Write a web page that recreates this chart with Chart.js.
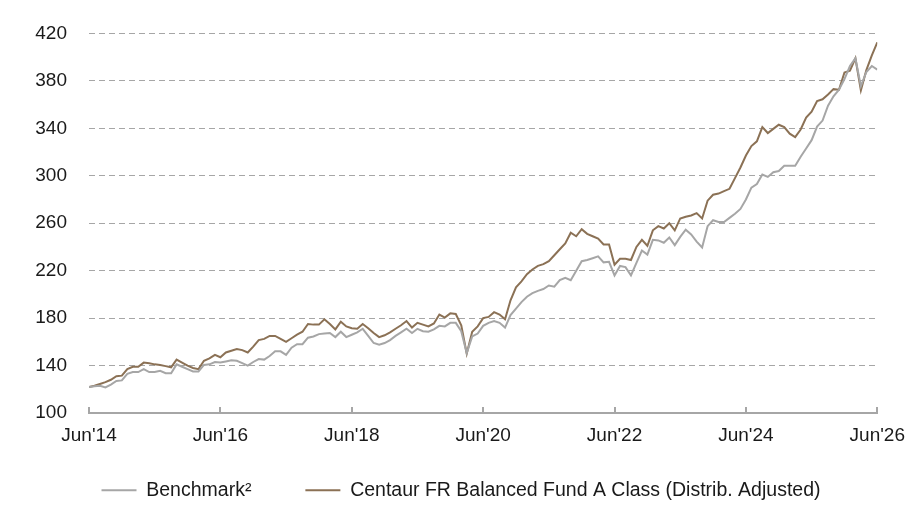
<!DOCTYPE html>
<html>
<head>
<meta charset="utf-8">
<script src="https://cdn.jsdelivr.net/npm/chart.js@4"></script>
<style>
  html, body { margin: 0; padding: 0; background: #fff; }
  #wrap { width: 913px; height: 525px; }
</style>
</head>
<body>
<div id="wrap"><canvas id="perf-chart"></canvas></div>
<script>
"use strict";

// months since Jun'14 (0..144), one value per month
const tickLabels = ["Jun'14", "Jun'16", "Jun'18", "Jun'20", "Jun'22", "Jun'24", "Jun'26"];
const seriesNames = ["Benchmark\u00B2", "Centaur FR Balanced Fund A Class (Distrib. Adjusted)"];

const benchmark = [
  122, 122.5, 123, 121.5, 124, 127, 127.5, 133, 134.5, 134.5, 137, 134.5,
  134.5, 135.5, 133.5, 133.5, 141, 139, 137, 135, 135, 140.5, 141, 143,
  142.5, 143.5, 144.5, 144, 142, 140, 143, 145.5, 145, 148, 152, 152,
  149, 155, 158, 158, 163.5, 164.5, 166.5, 167, 167.5, 164, 168.5, 164,
  166, 168, 171, 165, 159, 157.5, 159, 161.5, 165, 168, 171, 167.5,
  171, 169, 168.5, 170.5, 173.5, 173, 176, 176, 169, 150.5, 164.5, 167,
  173.5, 176, 177.5, 176, 172, 182.5, 188, 193.5, 198, 201, 203, 204.5,
  207.5, 206.5, 212, 214, 212, 220, 228, 229, 230.5, 232, 227, 227.5,
  216, 224, 223, 216, 226.5, 237, 233.5, 246, 245.5, 243.5, 248, 241.5,
  248.5, 254.5, 250.5, 244.5, 239.5, 257.5, 262.5, 261, 261, 264.5, 268, 272,
  280, 290, 293, 301, 299, 303, 304, 308.5, 308.5, 308.5, 316, 323,
  330, 341.5, 346.5, 359, 367, 372.5, 381.5, 392.5, 399, 375.5, 387.5, 392.5,
  389.5
];

const fund = [
  122, 123, 124.5, 126, 128, 131, 131.5, 137, 139, 139, 142.5, 142,
  141, 140.5, 139.5, 138.5, 145, 142.5, 140, 138, 137, 144, 146, 149,
  147, 151, 152.5, 154, 153, 151, 156, 161.5, 162.5, 165, 165, 162.5,
  160, 163, 166, 168.5, 175, 174.5, 174.5, 179, 175, 170.5, 177, 173,
  171.5, 171, 175, 171.5, 167.5, 164, 165.5, 168, 171, 174, 177.5, 172,
  176, 174.5, 173, 175.5, 183, 180.5, 184, 183.5, 174, 150, 168.5, 173,
  180, 181, 185, 183, 179, 195, 206, 211, 217, 221, 224, 225.5,
  228, 233, 238, 243, 252, 249, 255, 251, 249, 247, 242, 242,
  225, 230, 230, 229, 240, 246, 241, 254, 257.5, 255.5, 260, 254,
  264, 265.5, 266.5, 268.5, 264, 279, 284, 285, 287, 289, 298, 307,
  317, 325, 329, 341, 336, 339.5, 343, 341, 335.5, 332.5, 339, 349,
  354, 363, 364.5, 368.5, 373, 372.5, 387, 388.5, 399, 372, 389, 401.5,
  412.5
];

const GRAY = "#a6a6a6";
const BROWN = "#8b7155";

function toPoints(values) {
  return values.map((v, i) => ({ x: i, y: v }));
}

// the x axis box is kept short so the legend can sit close; let its labels
// spill below it instead of being clipped to the box
const unclipXLabels = {
  id: "unclipXLabels",
  afterLayout(chart) {
    chart.scales.x.bottom = chart.height;
  },
};

function renderChart() {
  Chart.defaults.font.family = "'Liberation Sans', Arial, sans-serif";
  Chart.defaults.font.size = 19;
  Chart.defaults.color = "#1a1a1a";

  const ctx = document.getElementById("perf-chart").getContext("2d");
  new Chart(ctx, {
    type: "line",
    data: {
      datasets: [
        { label: seriesNames[0], data: toPoints(benchmark), borderColor: GRAY, backgroundColor: GRAY },
        { label: seriesNames[1], data: toPoints(fund), borderColor: BROWN, backgroundColor: BROWN },
      ],
    },
    plugins: [unclipXLabels],
    options: {
      responsive: true,
      maintainAspectRatio: false,
      animation: false,
      elements: {
        line: { borderWidth: 2, tension: 0 },
        point: { radius: 0 },
      },
      layout: { padding: { top: 26, right: 0, bottom: 15, left: 9 } },
      plugins: {
        tooltip: { enabled: false },
        legend: {
          position: "bottom",
          labels: {
            boxWidth: 35,
            boxHeight: 2,
            padding: 54,
            color: "#1a1a1a",
            font: { size: 19.5 },
            generateLabels: chart => Chart.defaults.plugins.legend.labels.generateLabels(chart)
              .map(l => ({ ...l, lineWidth: 0, fillStyle: l.strokeStyle })),
          },
        },
      },
      scales: {
        x: {
          type: "linear",
          min: 0,
          max: 144,
          afterFit: s => { s.height = 13.5; },
          ticks: {
            stepSize: 24,
            padding: 8,
            maxRotation: 0,
            font: { lineHeight: 2.21 },
            callback: v => tickLabels[v / 24],
          },
          grid: { display: true, drawOnChartArea: false, drawTicks: true, tickLength: -6, color: GRAY, lineWidth: 2 },
          border: { display: true, color: GRAY, width: 2 },
        },
        y: {
          min: 100,
          max: 420,
          afterFit: s => { s.width = 80; },
          ticks: { stepSize: 40, padding: 22 },
          grid: {
            drawTicks: false,
            color: c => c.tick.value === 100 ? "rgba(0,0,0,0)" : GRAY,
            lineWidth: 1,
          },
          border: { display: false, dash: [6, 4] },
        },
      },
    },
  });
}

document.addEventListener("DOMContentLoaded", renderChart);
</script>
</body>
</html>
